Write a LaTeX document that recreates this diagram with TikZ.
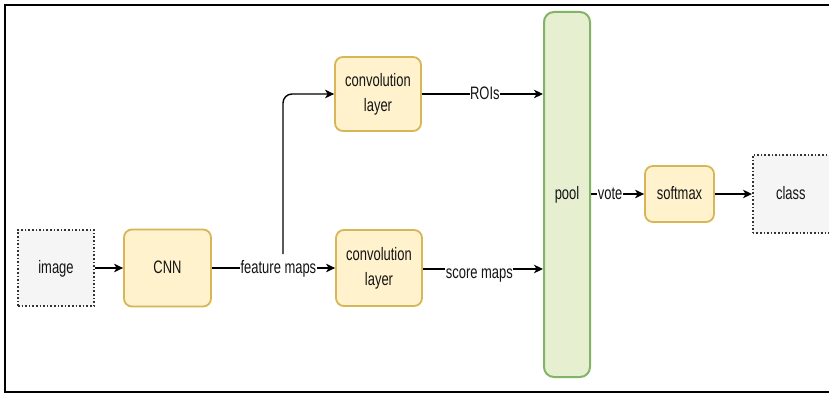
\documentclass[tikz,border=0pt]{standalone}
\usepackage{fontspec}
\usepackage{graphicx}
\setmainfont{Liberation Sans}
\usetikzlibrary{arrows.meta,calc}

\definecolor{boxfill}{HTML}{FFF2CC}
\definecolor{boxline}{HTML}{D6B656}
\definecolor{poolfill}{HTML}{E6F0D0}
\definecolor{poolline}{HTML}{82B366}
\definecolor{iofill}{HTML}{F5F5F5}
\definecolor{ioline}{HTML}{333333}
\definecolor{ink}{HTML}{141414}

% tall, narrow lettering
\newcommand\tall[1]{\scalebox{1.02}[1.42]{\begin{tabular}{@{}c@{}}#1\end{tabular}}}

\tikzset{
  x=1pt, y=1pt,
  every node/.style={font=\fontsize{12.7}{18}\selectfont, text=ink},
  stepbox/.style={draw=boxline, fill=boxfill, line width=1.8pt, rounded corners=8pt, inner sep=0pt},
  iobox/.style={draw=ioline, fill=iofill, line width=1.6pt, dotted, inner sep=0pt},
  poolbox/.style={draw=poolline, fill=poolfill, line width=2pt, rounded corners=10pt, inner sep=0pt},
  arr/.style={draw=black, line width=1.4pt, -{Stealth[length=9pt,width=8.5pt,inset=2.5pt]}},
  lbl/.style={fill=white, inner sep=0.5pt},
}

\begin{document}
\begin{tikzpicture}
\clip (0,0) rectangle (829,-395);
\fill[white] (0,0) rectangle (829,-395);
% outer frame
\draw[line width=2pt, black] (5,-5) rectangle (900,-392);

% nodes
\node[iobox, minimum width=76pt, minimum height=76pt] (img) at (56,-268) {\tall{image}};
\node[stepbox, minimum width=87pt, minimum height=77pt] (cnn) at (167.5,-268) {\tall{CNN}};
\node[stepbox, minimum width=86pt, minimum height=74pt] (c1) at (378,-94) {\tall{convolution\\layer}};
\node[stepbox, minimum width=86pt, minimum height=76pt] (c2) at (379,-268) {\tall{convolution\\layer}};
\node[poolbox, minimum width=46pt, minimum height=365pt] (pool) at (567,-194.5) {\tall{pool}};
\node[stepbox, minimum width=69pt, minimum height=56pt] (soft) at (679.5,-194) {\tall{softmax}};
\node[iobox, minimum width=90pt, minimum height=78pt, anchor=west] (cls) at (752,-194) {\hspace*{-14pt}\tall{class}};
\coordinate (bend) at (283,-95);

% connectors
\draw[arr] (img.east) -- (cnn.west);
\draw[arr] (cnn.east) -- node[lbl, pos=0.54] (fm) {\tall{feature maps}} (c2.west);
\draw[arr, rounded corners=9pt] (fm.north -| bend) |- (c1.west);
\draw[arr] (c1.east) -- node[lbl, pos=0.52] {\tall{ROIs}} (c1.east -| pool.west);
\draw[arr] ([yshift=-1pt]c2.east) -- node[lbl, pos=0.47, yshift=-4pt] {\tall{score maps}} ([yshift=-1pt]c2.east -| pool.west);
\draw[arr] (pool.east |- soft.west) -- node[lbl, pos=0.36] {\tall{vote}} (soft.west);
\draw[arr] (soft.east) -- (cls.west);
\end{tikzpicture}
\end{document}
